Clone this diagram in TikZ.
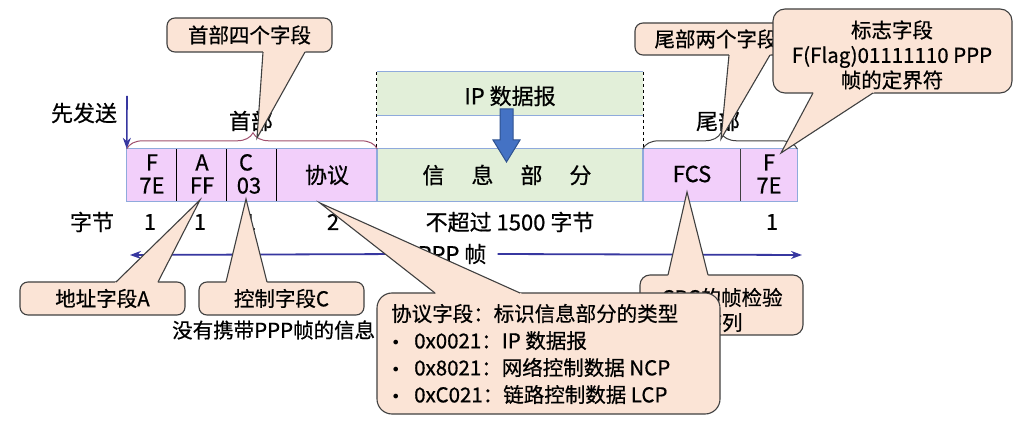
\documentclass[tikz,border=0pt]{standalone}
\usepackage{fontspec}
\setmainfont{Noto Sans CJK SC}[FakeBold=0.6]
\newfontfamily\dejavu{DejaVu Sans}
\usetikzlibrary{decorations.pathreplacing,calc,arrows.meta}
\definecolor{pinkc}{RGB}{242,207,250}
\definecolor{greenc}{RGB}{226,239,217}
\definecolor{cellb}{RGB}{143,170,220}
\definecolor{callf}{RGB}{251,228,214}
\definecolor{calld}{RGB}{64,64,64}
\definecolor{darrow}{RGB}{55,55,160}
\definecolor{bigblue}{RGB}{68,114,196}
\definecolor{bigblued}{RGB}{47,82,143}
\definecolor{bracec}{RGB}{160,80,110}
\newcommand\calltip[3]{%
  \fill[callf] ($(#1)!-3pt!(#2)$) -- (#2) -- ($(#3)!-3pt!(#2)$) -- cycle;
  \draw[callw] (#1) -- (#2) -- (#3);}
\newcommand\bul{\makebox[23pt][l]{\dejavu\fontsize{16}{16}\selectfont •}}
\begin{document}
\begin{tikzpicture}[x=1pt,y=-1pt,
  lbl/.style={inner sep=0pt, font=\fontsize{22}{26}\selectfont},
  celltxt/.style={inner sep=0pt, text height=15pt, text depth=0pt, font=\fontsize{22}{22}\selectfont},
  cellbox/.style={inner sep=0pt, minimum height=52pt},
  callbox/.style={fill=callf, draw=calld, line width=1.1pt, rounded corners=8pt, inner sep=0pt},
  calltxt/.style={inner sep=0pt, font=\fontsize{20.5}{25}\selectfont, align=center},
  callw/.style={draw=calld, line width=1.1pt, line join=miter},
  bluearrow/.style={draw=darrow, line width=1.8pt, -{Stealth[length=11pt,width=8pt]}},
]
\useasboundingbox (0,0) rectangle (1031,430);
\fill[white] (0,0) rectangle (1031,430);

% IP datagram box
\node[fill=greenc, inner sep=0pt, minimum width=266pt, minimum height=43pt] (ipbox) at (510,93.5) {};
\draw[cellb, line width=1.2pt] (ipbox.north west) -- (ipbox.north east);
\draw[cellb, line width=1.2pt] (ipbox.south west) -- (ipbox.south east);
\node[lbl] (iptxt) at (510,96) {IP 数据报};

% frame cells
\node[cellbox, fill=pinkc, minimum width=50pt] (cF) at (152,175) {};
\node[cellbox, fill=pinkc, minimum width=50pt] (cA) at (202,175) {};
\node[cellbox, fill=pinkc, minimum width=50pt] (cC) at (252,175) {};
\node[cellbox, fill=pinkc, minimum width=100pt] (cP) at (327,175) {};
\node[cellbox, fill=greenc, minimum width=266pt] (cI) at (510,175) {};
\node[cellbox, fill=pinkc, minimum width=98pt] (cS) at (692,175) {};
\node[cellbox, fill=pinkc, minimum width=56pt] (cE) at (769,175) {};
\draw[black, line width=1pt] (cA.north west) -- (cA.south west);
\draw[black, line width=1pt] (cC.north west) -- (cC.south west);
\draw[black, line width=1pt] (cP.north west) -- (cP.south west);
\draw[calld, line width=1pt] (cE.north west) -- (cE.south west);
\draw[cellb, line width=1.3pt] (cF.north west) rectangle (cP.south east);
\draw[cellb, line width=1.3pt] (cI.north west) rectangle (cI.south east);
\draw[cellb, line width=1.3pt] (cS.north west) rectangle (cE.south east);
\draw[black, line width=0.7pt, dashed] (ipbox.north west) -- (cI.north west);
\draw[black, line width=0.7pt, dashed] (ipbox.north east) -- (cI.north east);

\node[celltxt] at ($(cF)+(0,-12)$) {F};
\node[celltxt] at ($(cF)+(0,11)$) {7E};
\node[celltxt] at ($(cA)+(0,-12)$) {A};
\node[celltxt] at ($(cA)+(0,11)$) {FF};
\node[celltxt] at ($(cC)+(-6,-12)$) {C};
\node[celltxt] at ($(cC)+(-3,11)$) {03};
\node[lbl] at (cP) {协议};
\node[lbl] at (507,175) {信\hspace{27pt}息\hspace{27pt}部\hspace{27pt}分};
\node[lbl] at ($(cS)+(0,-1)$) {FCS};
\node[celltxt] at ($(cE)+(0,-12)$) {F};
\node[celltxt] at ($(cE)+(0,11)$) {7E};

% big arrow
\filldraw[fill=bigblue, draw=bigblued, line width=1pt]
  (500,109) -- (513,109) -- (513,140) -- (520,140) -- (506.5,162) -- (493,140) -- (500,140) -- cycle;

% braces
\draw[bracec, line width=1pt, decorate, decoration={brace, amplitude=16pt, aspect=0.504}]
  (cF.north west) -- (cP.north east);
\draw[calld, line width=1pt, decorate, decoration={brace, amplitude=16pt, aspect=0.506}]
  (cS.north west) -- (cE.north east);
\node[lbl] (hdr) at (251,121) {首部};
\node[lbl] (tlr) at (718,121) {尾部};

% send first
\node[lbl] (first) at (84,113) {先发送};
\coordinate (fa1) at (127,96);
\draw[bluearrow, line width=1.6pt] (fa1) -- (cF.north west);

% byte counts
\node[lbl] (bytes) at (92,222) {字节};
\node[lbl] at (150,222) {1};
\node[lbl] at (200,222) {1};
\node[lbl] at (250,222) {1};
\node[lbl] at (333,222) {2};
\node[lbl] at (510,222) {不超过 1500 字节};
\node[lbl] at (772,222) {1};

% PPP frame arrow
\coordinate (pl) at (130,255);
\coordinate (pr) at (802,255);
\node[lbl, fill=white, inner xsep=11pt, inner ysep=2pt] (ppp) at (452,254) {PPP 帧};
\draw[bluearrow] (ppp.west) -- (pl);
\draw[bluearrow] (ppp.east) -- (pr);

\node[lbl, anchor=west, font=\fontsize{20.5}{25}\selectfont] (noinfo) at (172,330) {没有携带PPP帧的信息};

% callout: header four fields
\node[callbox, minimum width=165pt, minimum height=34pt] (k1) at (249.5,35) {};
\node[calltxt] at (k1) {首部四个字段};
\coordinate (k1a) at (263,52); \coordinate (k1b) at (305,52); \coordinate (k1t) at (257,138);
\calltip{k1a}{k1t}{k1b}

% callout: trailer two fields
\node[callbox, minimum width=162pt, minimum height=32pt] (k2) at (716,39) {};
\node[calltxt] at (k2) {尾部两个字段};
\coordinate (k2a) at (729,55); \coordinate (k2b) at (770,55); \coordinate (k2t) at (721,139);
\calltip{k2a}{k2t}{k2b}

% callout: flag
\node[callbox, rounded corners=12pt, minimum width=239pt, minimum height=84pt] (k3) at (892.5,51) {};
\node[calltxt] at (892,55) {标志字段\\F(Flag)01111110 PPP\\帧的定界符};
\coordinate (k3a) at (813,93); \coordinate (k3b) at (873,93); \coordinate (k3t) at (781,153);
\calltip{k3a}{k3t}{k3b}

% callout: address
\node[callbox, minimum width=165pt, minimum height=33pt] (k4) at (102.5,298.5) {};
\node[calltxt] at (k4) {地址字段A};
\coordinate (k4a) at (116,282); \coordinate (k4b) at (158,282); \coordinate (k4t) at (200,200);
\calltip{k4a}{k4t}{k4b}

% callout: control
\node[callbox, minimum width=165pt, minimum height=33pt] (k5) at (281.5,298.5) {};
\node[calltxt] at (k5) {控制字段C};
\coordinate (k5a) at (226,282); \coordinate (k5b) at (267,282); \coordinate (k5t) at (246,199);
\calltip{k5a}{k5t}{k5b}

% callout: CRC
\node[callbox, rounded corners=10pt, minimum width=163pt, minimum height=60pt] (k6) at (721.5,305) {};
\node[calltxt] at (722,310) {CRC的帧检验\\序列};
\coordinate (k6a) at (668,275); \coordinate (k6b) at (708,275); \coordinate (k6t) at (687,192);
\calltip{k6a}{k6t}{k6b}

% callout: protocol
\node[callbox, rounded corners=15pt, minimum width=343pt, minimum height=121pt] (k7) at (548.5,353.5) {};
\node[calltxt, align=left, anchor=west, font=\fontsize{20.5}{27}\selectfont] at (391,354)
  {协议字段：标识信息部分的类型\\
   \bul 0x0021：IP 数据报\\
   \bul 0x8021：网络控制数据 NCP\\
   \bul 0xC021：链路控制数据 LCP};
\coordinate (k7a) at (435,293); \coordinate (k7b) at (520,293); \coordinate (k7t) at (320,203);
\calltip{k7a}{k7t}{k7b}
\end{tikzpicture}
\end{document}
